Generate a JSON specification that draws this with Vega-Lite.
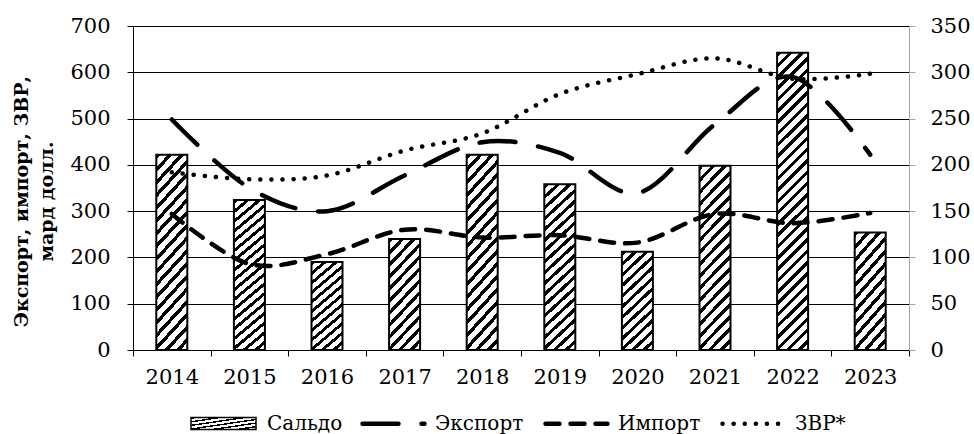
{
  "$schema": "https://vega.github.io/schema/vega-lite/v6.json",
  "width": 776,
  "height": 324,
  "autosize": {"type": "none"},
  "padding": {"left": 133, "top": 26, "right": 65, "bottom": 84},
  "background": "#ffffff",
  "config": {
    "view": {"stroke": null},
    "font": "DejaVu Serif",
    "legend": {"labelFont": "DejaVu Serif", "labelFontSize": 20, "labelColor": "#000"},
    "axis": {"labelFont": "DejaVu Serif", "titleFont": "DejaVu Serif"}
  },
  "data": {
    "values": [
      {"year": "2014", "series": "Сальдо", "value": 211},
      {"year": "2015", "series": "Сальдо", "value": 162},
      {"year": "2016", "series": "Сальдо", "value": 95},
      {"year": "2017", "series": "Сальдо", "value": 120},
      {"year": "2018", "series": "Сальдо", "value": 211},
      {"year": "2019", "series": "Сальдо", "value": 179},
      {"year": "2020", "series": "Сальдо", "value": 106},
      {"year": "2021", "series": "Сальдо", "value": 199},
      {"year": "2022", "series": "Сальдо", "value": 321},
      {"year": "2023", "series": "Сальдо", "value": 127},
      {"year": "2014", "series": "Экспорт", "value": 498},
      {"year": "2015", "series": "Экспорт", "value": 350},
      {"year": "2016", "series": "Экспорт", "value": 300},
      {"year": "2017", "series": "Экспорт", "value": 377},
      {"year": "2018", "series": "Экспорт", "value": 449},
      {"year": "2019", "series": "Экспорт", "value": 426},
      {"year": "2020", "series": "Экспорт", "value": 339},
      {"year": "2021", "series": "Экспорт", "value": 488},
      {"year": "2022", "series": "Экспорт", "value": 590},
      {"year": "2023", "series": "Экспорт", "value": 422},
      {"year": "2014", "series": "Импорт", "value": 294},
      {"year": "2015", "series": "Импорт", "value": 186},
      {"year": "2016", "series": "Импорт", "value": 207},
      {"year": "2017", "series": "Импорт", "value": 260},
      {"year": "2018", "series": "Импорт", "value": 243},
      {"year": "2019", "series": "Импорт", "value": 248},
      {"year": "2020", "series": "Импорт", "value": 232},
      {"year": "2021", "series": "Импорт", "value": 294},
      {"year": "2022", "series": "Импорт", "value": 274},
      {"year": "2023", "series": "Импорт", "value": 296},
      {"year": "2014", "series": "ЗВР*", "value": 384},
      {"year": "2015", "series": "ЗВР*", "value": 369},
      {"year": "2016", "series": "ЗВР*", "value": 377},
      {"year": "2017", "series": "ЗВР*", "value": 431},
      {"year": "2018", "series": "ЗВР*", "value": 468},
      {"year": "2019", "series": "ЗВР*", "value": 553},
      {"year": "2020", "series": "ЗВР*", "value": 596},
      {"year": "2021", "series": "ЗВР*", "value": 630},
      {"year": "2022", "series": "ЗВР*", "value": 586},
      {"year": "2023", "series": "ЗВР*", "value": 597}
    ]
  },
  "encoding": {
    "x": {
      "field": "year",
      "type": "ordinal",
      "scale": {"paddingInner": 0, "paddingOuter": 0},
      "axis": {
        "title": null,
        "labelAngle": 0,
        "tickBand": "extent",
        "domainColor": "#000",
        "tickColor": "#000",
        "tickSize": 6,
        "labelPadding": 10,
        "labelFont": "DejaVu Serif",
        "labelFontSize": 21,
        "labelColor": "#000",
        "grid": false
      }
    }
  },
  "layer": [
    {
      "transform": [{"filter": "datum.series == 'Сальдо'"}],
      "mark": {"type": "bar", "size": 31, "strokeWidth": 2},
      "encoding": {
        "y": {
          "field": "value",
          "type": "quantitative",
          "scale": {"domain": [0, 350]},
          "axis": {
            "orient": "right",
            "values": [0, 50, 100, 150, 200, 250, 300, 350],
            "grid": false,
            "domainColor": "#a6a6a6",
            "tickColor": "#a6a6a6",
            "tickSize": 6,
            "labelPadding": 15,
            "labelFont": "DejaVu Serif",
            "labelFontSize": 21,
            "labelColor": "#000",
            "title": null
          }
        },
        "stroke": {
          "field": "series",
          "type": "nominal",
          "scale": {"range": ["#000000"]},
          "legend": {
            "orient": "none",
            "legendX": 57,
            "legendY": 364,
            "title": null,
            "symbolType": "M-1,-0.185H1V0.185H-1Z",
            "symbolSize": 4225,
            "labelFont": "DejaVu Serif",
            "labelFontSize": 20,
            "labelColor": "#000",
            "labelOffset": 10,
            "encode": {
              "labels": {"update": {"font": {"value": "DejaVu Serif"}}},
              "symbols": {
                "update": {
                  "fill": {"value": {"gradient": "linear", "x1": 0, "y1": 0, "x2": 1.143, "y2": 0.211, "stops": [
                    {"offset": 0, "color": "#000"}, {"offset": 0.1, "color": "#000"}, {"offset": 0.1, "color": "#fff"}, {"offset": 0.2, "color": "#fff"},
                    {"offset": 0.2, "color": "#000"}, {"offset": 0.3, "color": "#000"}, {"offset": 0.3, "color": "#fff"}, {"offset": 0.4, "color": "#fff"},
                    {"offset": 0.4, "color": "#000"}, {"offset": 0.5, "color": "#000"}, {"offset": 0.5, "color": "#fff"}, {"offset": 0.6, "color": "#fff"},
                    {"offset": 0.6, "color": "#000"}, {"offset": 0.7, "color": "#000"}, {"offset": 0.7, "color": "#fff"}, {"offset": 0.8, "color": "#fff"},
                    {"offset": 0.8, "color": "#000"}, {"offset": 0.9, "color": "#000"}, {"offset": 0.9, "color": "#fff"}, {"offset": 1, "color": "#fff"}
                  ]}},
                  "stroke": {"value": "#000"},
                  "strokeWidth": {"value": 1.5}
                }
              }
            }
          }
        },
        "fill": {
          "condition": [
            {
              "test": "datum.year == '2022'",
              "value": {"gradient": "linear", "x1": 0, "y1": 0, "x2": 0.1136, "y2": 1.0922, "stops": [
                {"offset": 0, "color": "#000"}, {"offset": 0.01379, "color": "#000"}, {"offset": 0.01379, "color": "#fff"}, {"offset": 0.03448, "color": "#fff"},
                {"offset": 0.03448, "color": "#000"}, {"offset": 0.04827, "color": "#000"}, {"offset": 0.04827, "color": "#fff"}, {"offset": 0.06897, "color": "#fff"},
                {"offset": 0.06897, "color": "#000"}, {"offset": 0.08276, "color": "#000"}, {"offset": 0.08276, "color": "#fff"}, {"offset": 0.10345, "color": "#fff"},
                {"offset": 0.10345, "color": "#000"}, {"offset": 0.11724, "color": "#000"}, {"offset": 0.11724, "color": "#fff"}, {"offset": 0.13793, "color": "#fff"},
                {"offset": 0.13793, "color": "#000"}, {"offset": 0.15172, "color": "#000"}, {"offset": 0.15172, "color": "#fff"}, {"offset": 0.17241, "color": "#fff"},
                {"offset": 0.17241, "color": "#000"}, {"offset": 0.1862, "color": "#000"}, {"offset": 0.1862, "color": "#fff"}, {"offset": 0.2069, "color": "#fff"},
                {"offset": 0.2069, "color": "#000"}, {"offset": 0.22069, "color": "#000"}, {"offset": 0.22069, "color": "#fff"}, {"offset": 0.24138, "color": "#fff"},
                {"offset": 0.24138, "color": "#000"}, {"offset": 0.25517, "color": "#000"}, {"offset": 0.25517, "color": "#fff"}, {"offset": 0.27586, "color": "#fff"},
                {"offset": 0.27586, "color": "#000"}, {"offset": 0.28965, "color": "#000"}, {"offset": 0.28965, "color": "#fff"}, {"offset": 0.31034, "color": "#fff"},
                {"offset": 0.31034, "color": "#000"}, {"offset": 0.32413, "color": "#000"}, {"offset": 0.32413, "color": "#fff"}, {"offset": 0.34483, "color": "#fff"},
                {"offset": 0.34483, "color": "#000"}, {"offset": 0.35862, "color": "#000"}, {"offset": 0.35862, "color": "#fff"}, {"offset": 0.37931, "color": "#fff"},
                {"offset": 0.37931, "color": "#000"}, {"offset": 0.3931, "color": "#000"}, {"offset": 0.3931, "color": "#fff"}, {"offset": 0.41379, "color": "#fff"},
                {"offset": 0.41379, "color": "#000"}, {"offset": 0.42758, "color": "#000"}, {"offset": 0.42758, "color": "#fff"}, {"offset": 0.44828, "color": "#fff"},
                {"offset": 0.44828, "color": "#000"}, {"offset": 0.46207, "color": "#000"}, {"offset": 0.46207, "color": "#fff"}, {"offset": 0.48276, "color": "#fff"},
                {"offset": 0.48276, "color": "#000"}, {"offset": 0.49655, "color": "#000"}, {"offset": 0.49655, "color": "#fff"}, {"offset": 0.51724, "color": "#fff"},
                {"offset": 0.51724, "color": "#000"}, {"offset": 0.53103, "color": "#000"}, {"offset": 0.53103, "color": "#fff"}, {"offset": 0.55172, "color": "#fff"},
                {"offset": 0.55172, "color": "#000"}, {"offset": 0.56551, "color": "#000"}, {"offset": 0.56551, "color": "#fff"}, {"offset": 0.58621, "color": "#fff"},
                {"offset": 0.58621, "color": "#000"}, {"offset": 0.6, "color": "#000"}, {"offset": 0.6, "color": "#fff"}, {"offset": 0.62069, "color": "#fff"},
                {"offset": 0.62069, "color": "#000"}, {"offset": 0.63448, "color": "#000"}, {"offset": 0.63448, "color": "#fff"}, {"offset": 0.65517, "color": "#fff"},
                {"offset": 0.65517, "color": "#000"}, {"offset": 0.66896, "color": "#000"}, {"offset": 0.66896, "color": "#fff"}, {"offset": 0.68966, "color": "#fff"},
                {"offset": 0.68966, "color": "#000"}, {"offset": 0.70345, "color": "#000"}, {"offset": 0.70345, "color": "#fff"}, {"offset": 0.72414, "color": "#fff"},
                {"offset": 0.72414, "color": "#000"}, {"offset": 0.73793, "color": "#000"}, {"offset": 0.73793, "color": "#fff"}, {"offset": 0.75862, "color": "#fff"},
                {"offset": 0.75862, "color": "#000"}, {"offset": 0.77241, "color": "#000"}, {"offset": 0.77241, "color": "#fff"}, {"offset": 0.7931, "color": "#fff"},
                {"offset": 0.7931, "color": "#000"}, {"offset": 0.80689, "color": "#000"}, {"offset": 0.80689, "color": "#fff"}, {"offset": 0.82759, "color": "#fff"},
                {"offset": 0.82759, "color": "#000"}, {"offset": 0.84138, "color": "#000"}, {"offset": 0.84138, "color": "#fff"}, {"offset": 0.86207, "color": "#fff"},
                {"offset": 0.86207, "color": "#000"}, {"offset": 0.87586, "color": "#000"}, {"offset": 0.87586, "color": "#fff"}, {"offset": 0.89655, "color": "#fff"},
                {"offset": 0.89655, "color": "#000"}, {"offset": 0.91034, "color": "#000"}, {"offset": 0.91034, "color": "#fff"}, {"offset": 0.93103, "color": "#fff"},
                {"offset": 0.93103, "color": "#000"}, {"offset": 0.94482, "color": "#000"}, {"offset": 0.94482, "color": "#fff"}, {"offset": 0.96552, "color": "#fff"},
                {"offset": 0.96552, "color": "#000"}, {"offset": 0.97931, "color": "#000"}, {"offset": 0.97931, "color": "#fff"}, {"offset": 1, "color": "#fff"}
              ]}
            },
            {
              "test": "indexof(['2016','2017','2020','2023'], datum.year) >= 0",
              "value": {"gradient": "linear", "x1": 0, "y1": 0, "x2": 0.3553, "y2": 1.1921, "stops": [
                {"offset": 0, "color": "#000"}, {"offset": 0.03333, "color": "#000"}, {"offset": 0.03333, "color": "#fff"}, {"offset": 0.08333, "color": "#fff"},
                {"offset": 0.08333, "color": "#000"}, {"offset": 0.11667, "color": "#000"}, {"offset": 0.11667, "color": "#fff"}, {"offset": 0.16667, "color": "#fff"},
                {"offset": 0.16667, "color": "#000"}, {"offset": 0.2, "color": "#000"}, {"offset": 0.2, "color": "#fff"}, {"offset": 0.25, "color": "#fff"},
                {"offset": 0.25, "color": "#000"}, {"offset": 0.28333, "color": "#000"}, {"offset": 0.28333, "color": "#fff"}, {"offset": 0.33333, "color": "#fff"},
                {"offset": 0.33333, "color": "#000"}, {"offset": 0.36667, "color": "#000"}, {"offset": 0.36667, "color": "#fff"}, {"offset": 0.41667, "color": "#fff"},
                {"offset": 0.41667, "color": "#000"}, {"offset": 0.45, "color": "#000"}, {"offset": 0.45, "color": "#fff"}, {"offset": 0.5, "color": "#fff"},
                {"offset": 0.5, "color": "#000"}, {"offset": 0.53333, "color": "#000"}, {"offset": 0.53333, "color": "#fff"}, {"offset": 0.58333, "color": "#fff"},
                {"offset": 0.58333, "color": "#000"}, {"offset": 0.61667, "color": "#000"}, {"offset": 0.61667, "color": "#fff"}, {"offset": 0.66667, "color": "#fff"},
                {"offset": 0.66667, "color": "#000"}, {"offset": 0.7, "color": "#000"}, {"offset": 0.7, "color": "#fff"}, {"offset": 0.75, "color": "#fff"},
                {"offset": 0.75, "color": "#000"}, {"offset": 0.78333, "color": "#000"}, {"offset": 0.78333, "color": "#fff"}, {"offset": 0.83333, "color": "#fff"},
                {"offset": 0.83333, "color": "#000"}, {"offset": 0.86667, "color": "#000"}, {"offset": 0.86667, "color": "#fff"}, {"offset": 0.91667, "color": "#fff"},
                {"offset": 0.91667, "color": "#000"}, {"offset": 0.95, "color": "#000"}, {"offset": 0.95, "color": "#fff"}, {"offset": 1, "color": "#fff"}
              ]}
            }
          ],
          "value": {"gradient": "linear", "x1": 0, "y1": 0, "x2": 0.1973, "y2": 1.1392, "stops": [
            {"offset": 0, "color": "#000"}, {"offset": 0.02222, "color": "#000"}, {"offset": 0.02222, "color": "#fff"}, {"offset": 0.05556, "color": "#fff"},
            {"offset": 0.05556, "color": "#000"}, {"offset": 0.07778, "color": "#000"}, {"offset": 0.07778, "color": "#fff"}, {"offset": 0.11111, "color": "#fff"},
            {"offset": 0.11111, "color": "#000"}, {"offset": 0.13333, "color": "#000"}, {"offset": 0.13333, "color": "#fff"}, {"offset": 0.16667, "color": "#fff"},
            {"offset": 0.16667, "color": "#000"}, {"offset": 0.18889, "color": "#000"}, {"offset": 0.18889, "color": "#fff"}, {"offset": 0.22222, "color": "#fff"},
            {"offset": 0.22222, "color": "#000"}, {"offset": 0.24444, "color": "#000"}, {"offset": 0.24444, "color": "#fff"}, {"offset": 0.27778, "color": "#fff"},
            {"offset": 0.27778, "color": "#000"}, {"offset": 0.3, "color": "#000"}, {"offset": 0.3, "color": "#fff"}, {"offset": 0.33333, "color": "#fff"},
            {"offset": 0.33333, "color": "#000"}, {"offset": 0.35556, "color": "#000"}, {"offset": 0.35556, "color": "#fff"}, {"offset": 0.38889, "color": "#fff"},
            {"offset": 0.38889, "color": "#000"}, {"offset": 0.41111, "color": "#000"}, {"offset": 0.41111, "color": "#fff"}, {"offset": 0.44444, "color": "#fff"},
            {"offset": 0.44444, "color": "#000"}, {"offset": 0.46667, "color": "#000"}, {"offset": 0.46667, "color": "#fff"}, {"offset": 0.5, "color": "#fff"},
            {"offset": 0.5, "color": "#000"}, {"offset": 0.52222, "color": "#000"}, {"offset": 0.52222, "color": "#fff"}, {"offset": 0.55556, "color": "#fff"},
            {"offset": 0.55556, "color": "#000"}, {"offset": 0.57778, "color": "#000"}, {"offset": 0.57778, "color": "#fff"}, {"offset": 0.61111, "color": "#fff"},
            {"offset": 0.61111, "color": "#000"}, {"offset": 0.63333, "color": "#000"}, {"offset": 0.63333, "color": "#fff"}, {"offset": 0.66667, "color": "#fff"},
            {"offset": 0.66667, "color": "#000"}, {"offset": 0.68889, "color": "#000"}, {"offset": 0.68889, "color": "#fff"}, {"offset": 0.72222, "color": "#fff"},
            {"offset": 0.72222, "color": "#000"}, {"offset": 0.74444, "color": "#000"}, {"offset": 0.74444, "color": "#fff"}, {"offset": 0.77778, "color": "#fff"},
            {"offset": 0.77778, "color": "#000"}, {"offset": 0.8, "color": "#000"}, {"offset": 0.8, "color": "#fff"}, {"offset": 0.83333, "color": "#fff"},
            {"offset": 0.83333, "color": "#000"}, {"offset": 0.85556, "color": "#000"}, {"offset": 0.85556, "color": "#fff"}, {"offset": 0.88889, "color": "#fff"},
            {"offset": 0.88889, "color": "#000"}, {"offset": 0.91111, "color": "#000"}, {"offset": 0.91111, "color": "#fff"}, {"offset": 0.94444, "color": "#fff"},
            {"offset": 0.94444, "color": "#000"}, {"offset": 0.96667, "color": "#000"}, {"offset": 0.96667, "color": "#fff"}, {"offset": 1, "color": "#fff"}
          ]}
        }
      }
    },
    {
      "transform": [{"filter": "datum.series != 'Сальдо'"}],
      "mark": {"type": "line", "color": "#000", "strokeWidth": 4.5, "strokeCap": "round", "interpolate": "cardinal"},
      "encoding": {
        "y": {
          "field": "value",
          "type": "quantitative",
          "scale": {"domain": [0, 700]},
          "axis": {
            "orient": "left",
            "values": [0, 100, 200, 300, 400, 500, 600, 700],
            "grid": true,
            "gridColor": "#000",
            "gridWidth": 1,
            "domainColor": "#000",
            "tickColor": "#000",
            "tickSize": 6,
            "labelPadding": 17,
            "labelFont": "DejaVu Serif",
            "labelFontSize": 21,
            "labelColor": "#000",
            "title": ["Экспорт, импорт, ЗВР,", "мард долл."],
            "titleFont": "DejaVu Serif",
            "titleFontWeight": "bold",
            "titleFontSize": 19,
            "titleColor": "#000",
            "titleAngle": -90,
            "titleX": -121,
            "titleY": 175,
            "titleAlign": "center",
            "titleBaseline": "top",
            "titleLineHeight": 25
          }
        },
        "strokeDash": {
          "field": "series",
          "type": "nominal",
          "scale": {"domain": ["Экспорт", "Импорт", "ЗВР*"], "range": [[36, 23], [14, 11], [0.1, 11]]},
          "legend": {
            "orient": "none",
            "direction": "horizontal",
            "legendX": 227,
            "legendY": 364,
            "title": null,
            "symbolType": "stroke",
            "symbolSize": 3844,
            "symbolStrokeWidth": 4.5,
            "symbolStrokeColor": "#000",
            "labelFont": "DejaVu Serif",
            "labelFontSize": 20,
            "labelColor": "#000",
            "labelOffset": 8,
            "columnPadding": 12,
            "encode": {
              "labels": {"update": {"font": {"value": "DejaVu Serif"}}},
              "symbols": {"update": {"strokeCap": {"value": "round"}}}
            }
          }
        }
      }
    }
  ],
  "resolve": {"scale": {"y": "independent"}}
}
